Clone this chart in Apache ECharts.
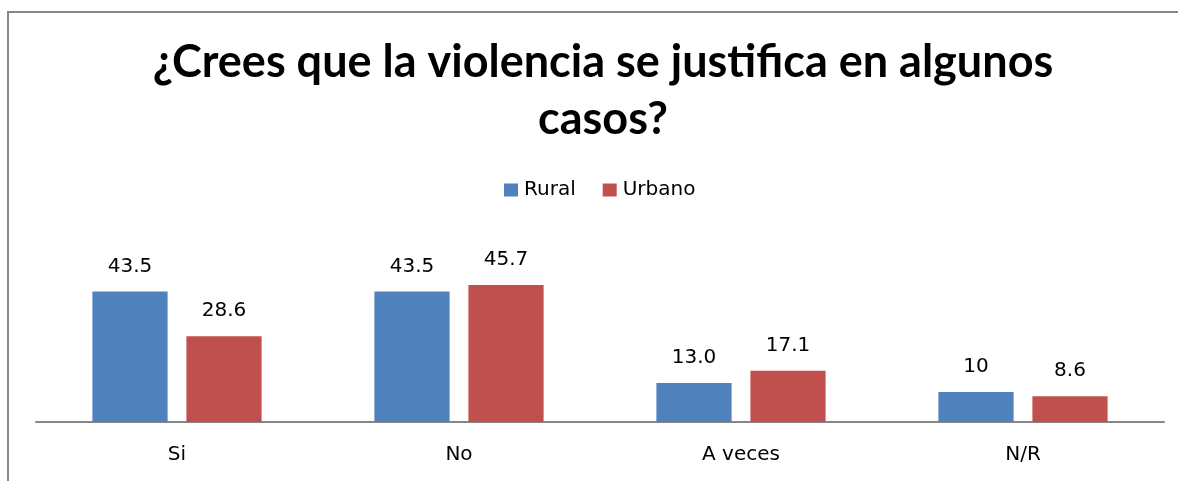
<!DOCTYPE html>
<html>
<head>
<meta charset="utf-8">
<script src="https://cdn.jsdelivr.net/npm/echarts@6/dist/echarts.min.js"></script>
<style>
  html, body { margin: 0; padding: 0; background: #fff; }
  #chart { width: 1178px; height: 481px; }
</style>
</head>
<body>
<div id="chart"></div>
<script>
// Survey answers by area (percent)
const categories = ['Si', 'No', 'A veces', 'N/R'];
const rural = [43.5, 43.5, 13.0, 10];
const urbano = [28.6, 45.7, 17.1, 8.6];
const ruralLabels = ['43.5', '43.5', '13.0', '10'];
const urbanoLabels = ['28.6', '45.7', '17.1', '8.6'];

const chart = echarts.init(document.getElementById('chart'), null, { renderer: 'canvas' });

const labelFont = { fontFamily: 'DejaVu Sans', fontSize: 20, color: '#000' };

function barSeries(name, values, labels, color) {
  return {
    name: name,
    type: 'bar',
    data: values,
    barGap: '25%',
    barCategoryGap: '40%',
    itemStyle: { color: color },
    label: {
      show: true,
      position: 'top',
      distance: 15,
      formatter: p => labels[p.dataIndex],
      ...labelFont
    }
  };
}

chart.setOption({
  animation: false,
  title: {
    text: '¿Crees que la violencia se justifica en algunos\ncasos?',
    left: 598,
    top: 29,
    textAlign: 'center',
    textStyle: {
      fontFamily: 'Lato',
      fontWeight: 'bold',
      fontSize: 45,
      lineHeight: 57,
      color: '#000'
    }
  },
  legend: {
    left: 504,
    top: 180,
    padding: 0,
    itemWidth: 14,
    itemHeight: 13,
    itemGap: 27,
    icon: 'rect',
    textStyle: { fontFamily: 'DejaVu Sans', fontSize: 20, color: '#000', padding: [0, 0, 0, 1] },
    data: ['Rural', 'Urbano']
  },
  grid: { left: 36, right: 14, top: 272, bottom: 59 },
  xAxis: {
    type: 'category',
    data: categories,
    axisLine: { lineStyle: { color: '#868686', width: 2 } },
    axisTick: { show: false },
    axisLabel: { margin: 23, ...labelFont }
  },
  yAxis: {
    type: 'value',
    min: 0,
    max: 50,
    show: false,
    splitLine: { show: false }
  },
  graphic: [
    {
      type: 'polyline',
      shape: { points: [[8, 481], [8, 12], [1178, 12]] },
      style: { stroke: '#878787', lineWidth: 2, fill: null }
    }
  ],
  series: [
    barSeries('Rural', rural, ruralLabels, '#4F81BD'),
    barSeries('Urbano', urbano, urbanoLabels, '#C0504D')
  ]
});
</script>
</body>
</html>
